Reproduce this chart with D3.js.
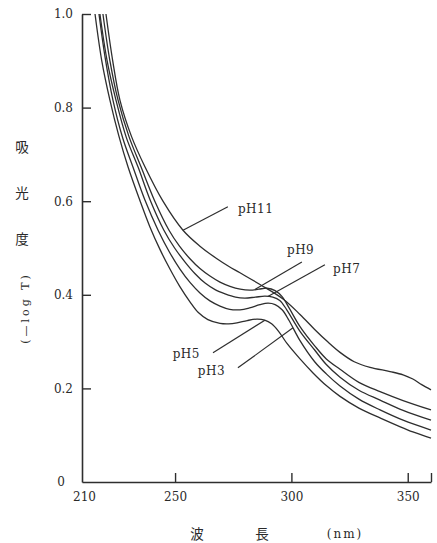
<!DOCTYPE html>
<html>
<head>
<meta charset="utf-8">
<script src="https://cdn.jsdelivr.net/npm/d3@7"></script>
<style>
  html, body { margin: 0; padding: 0; background: #ffffff; }
  svg { display: block; }
  .tick text { font-family: "DejaVu Serif", "Liberation Serif", serif; font-size: 12px; fill: #2a2a2a; }
  .lbl { font-family: "DejaVu Serif", "Liberation Serif", serif; font-size: 12px; fill: #2a2a2a; }
  .cjk { font-family: "Noto Sans CJK JP", sans-serif; font-size: 13.5px; fill: #2a2a2a; }
</style>
</head>
<body>
<script>
// Absorption spectra (absorbance vs wavelength) at five pH values: [wavelength nm, absorbance]
const pH3 = [[217.3,1.0],[220,0.905],[223.3,0.816],[227.5,0.735],[231.9,0.673],[237,0.603],[242.7,0.538],[247.5,0.492],[252.1,0.455],[256.5,0.426],[260.7,0.404],[265,0.387],[269.3,0.376],[273.5,0.369],[277.9,0.368],[282,0.372],[286.5,0.379],[290,0.382],[293,0.379],[296,0.368],[299,0.345],[303.7,0.302],[310,0.257],[315,0.231],[320.9,0.205],[329,0.177],[338.1,0.154],[348,0.132],[360,0.111]];
const pH5 = [[215.6,1.0],[218.5,0.9],[222.0,0.816],[225.8,0.74],[229.8,0.673],[235,0.600],[239.2,0.545],[243.5,0.497],[247.8,0.455],[252,0.418],[256.4,0.385],[260,0.362],[264.1,0.347],[269.3,0.339],[273,0.338],[276.6,0.340],[281,0.345],[285.2,0.348],[288.5,0.346],[291.5,0.338],[294.5,0.322],[298.1,0.296],[303.7,0.263],[309.3,0.233],[315,0.206],[320.9,0.183],[329,0.158],[338.1,0.137],[352.2,0.107],[360,0.094]];
const pH7 = [[217.7,1.0],[220.8,0.9],[224.6,0.816],[229,0.737],[234.1,0.673],[239.5,0.600],[245.2,0.538],[249.8,0.500],[254.3,0.470],[258.6,0.445],[262.9,0.425],[267.2,0.411],[271.5,0.402],[276,0.395],[280.0,0.393],[284.5,0.395],[288.6,0.397],[292,0.395],[295,0.388],[298,0.368],[303.7,0.322],[310,0.282],[315,0.251],[320.9,0.224],[329,0.196],[338.1,0.175],[348,0.153],[360,0.132]];
const pH9 = [[219.0,1.0],[222,0.9],[225.5,0.816],[230.2,0.738],[235.4,0.673],[241.3,0.600],[247.4,0.538],[251.9,0.504],[256.4,0.477],[260.7,0.456],[265.0,0.440],[269.3,0.427],[273.6,0.418],[278,0.412],[282.2,0.410],[286,0.412],[289.5,0.414],[293,0.409],[296,0.396],[299,0.372],[303.7,0.332],[310,0.291],[315,0.263],[320.9,0.241],[329,0.213],[338.1,0.193],[348,0.174],[360,0.154]];
const pH11 = [[220.3,1.0],[223.2,0.9],[226.3,0.816],[231.3,0.738],[237.1,0.673],[244.8,0.600],[253.4,0.538],[260.7,0.504],[268.0,0.477],[273,0.461],[277.9,0.447],[286.5,0.422],[296.4,0.391],[303.7,0.358],[310,0.326],[315.5,0.300],[320.9,0.277],[327,0.257],[333.8,0.245],[342.4,0.236],[348,0.229],[352.2,0.220],[356,0.208],[360,0.197]];

const seriesNames = ["pH3", "pH5", "pH7", "pH9", "pH11"];
const seriesData = [pH3, pH5, pH7, pH9, pH11];

// Axis ticks and labels
const xTicks = [210, 250, 300, 350];
const yTicks = [0, 0.2, 0.4, 0.6, 0.8, 1.0];
const yTickLabels = ["0", "0.2", "0.4", "0.6", "0.8", "1.0"];
const yTitleChars = ["吸", "光", "度"];
const yTitleUnit = "(—log T)";
const xTitleParts = ["波", "長", "(nm)"];

// Label callouts: curve name, wavelength where the leader touches the curve,
// and where the leader ends / label sits (wavelength, absorbance)
const callouts = [
  { name: "pH11", at: 253.4, end: [272.7, 0.588], text: [277.0, 0.583], anchor: "start" },
  { name: "pH9",  at: 284.3, end: [304.5, 0.470], text: [298.1, 0.496], anchor: "start" },
  { name: "pH7",  at: 289.9, end: [314.4, 0.464], text: [317.9, 0.455], anchor: "start" },
  { name: "pH5",  at: 288.6, end: [266.3, 0.276], text: [260.7, 0.274], anchor: "end" },
  { name: "pH3",  at: 300.7, end: [277.0, 0.244], text: [271.5, 0.237], anchor: "end" }
];

const W = 437, H = 543;
const margin = { left: 82, right: 6, top: 14, bottom: 61 };

const svg = d3.select("body").append("svg").attr("width", W).attr("height", H);

const x = d3.scaleLinear().domain([210, 360]).range([margin.left, W - margin.right]);
const y = d3.scaleLinear().domain([0, 1]).range([H - margin.bottom, margin.top]);

const ink = "#2e2e2e";

// Y axis (ticks point inward)
const yAxis = svg.append("g")
  .attr("transform", `translate(${margin.left},0)`)
  .call(d3.axisLeft(y).tickValues(yTicks).tickSizeInner(-9).tickSizeOuter(0).tickPadding(9)
    .tickFormat((d, i) => yTickLabels[i]));
yAxis.select(".domain").attr("stroke", ink).attr("stroke-width", 1.6);
yAxis.selectAll(".tick line").attr("stroke", ink).attr("stroke-width", 1.4)
  .filter(d => d === 0).remove();
yAxis.selectAll(".tick text").filter(d => d === 0).attr("x", -17).attr("dy", "0.32em");

// X axis (ticks point inward)
const xAxis = svg.append("g")
  .attr("transform", `translate(0,${H - margin.bottom})`)
  .call(d3.axisBottom(x).tickValues(xTicks.concat([360])).tickSizeInner(-9).tickSizeOuter(0).tickPadding(10)
    .tickFormat(d => xTicks.includes(d) ? String(d) : ""));
xAxis.select(".domain").attr("stroke", ink).attr("stroke-width", 1.6);
xAxis.selectAll(".tick line").attr("stroke", ink).attr("stroke-width", 1.4)
  .filter(d => d === 210).remove();
xAxis.selectAll(".tick text").filter(d => d === 210).attr("dx", 2);

// Spectra
const line = d3.line()
  .x(d => x(d[0])).y(d => y(d[1]))
  .curve(d3.curveCatmullRom.alpha(0.5));

svg.append("g").selectAll("path")
  .data(seriesData)
  .join("path")
  .attr("d", line)
  .attr("fill", "none")
  .attr("stroke", ink)
  .attr("stroke-width", 1.3);

// Linear interpolation of a series at a wavelength (for leader anchors)
function valueAt(series, wl) {
  for (let i = 1; i < series.length; i++) {
    if (wl <= series[i][0]) {
      const a = series[i - 1], b = series[i];
      const t = (wl - a[0]) / (b[0] - a[0]);
      return a[1] + t * (b[1] - a[1]);
    }
  }
  return series[series.length - 1][1];
}

const cg = svg.append("g");
callouts.forEach(c => {
  const s = seriesData[seriesNames.indexOf(c.name)];
  cg.append("line")
    .attr("x1", x(c.at)).attr("y1", y(valueAt(s, c.at)))
    .attr("x2", x(c.end[0])).attr("y2", y(c.end[1]))
    .attr("stroke", ink).attr("stroke-width", 1.2);
  cg.append("text").attr("class", "lbl")
    .attr("x", x(c.text[0])).attr("y", y(c.text[1]))
    .attr("dy", "0.35em")
    .attr("text-anchor", c.anchor)
    .attr("letter-spacing", "0.5px")
    .text(c.name);
});

// Y axis title: stacked characters, then rotated unit
const yTitleY = [147, 193, 239];
svg.append("g").selectAll("text")
  .data(yTitleChars)
  .join("text").attr("class", "cjk")
  .attr("x", 22).attr("y", (d, i) => yTitleY[i])
  .attr("dy", "0.35em").attr("text-anchor", "middle")
  .text(d => d);
svg.append("text").attr("class", "lbl")
  .attr("transform", "translate(25,308) rotate(-90)")
  .attr("text-anchor", "middle").attr("dy", "0.35em")
  .attr("letter-spacing", "3px")
  .style("font-size", "11px")
  .text(yTitleUnit);

// X axis title
const xTitleX = [197, 262, 345];
svg.append("g").selectAll("text")
  .data(xTitleParts)
  .join("text")
  .attr("class", (d, i) => i < 2 ? "cjk" : "lbl")
  .attr("x", (d, i) => xTitleX[i]).attr("y", 534)
  .attr("dy", "0.35em").attr("text-anchor", "middle")
  .attr("letter-spacing", (d, i) => i === 2 ? "2px" : null)
  .text(d => d);
</script>
</body>
</html>
